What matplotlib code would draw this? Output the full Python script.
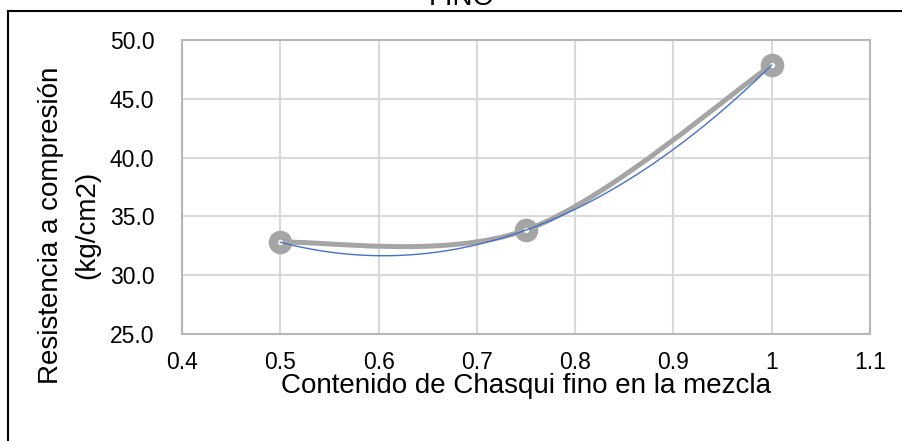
import numpy as np
import matplotlib.pyplot as plt
from matplotlib.path import Path
from matplotlib.patches import PathPatch
from matplotlib.lines import Line2D

plt.rcParams['font.family'] = ['Liberation Sans', 'DejaVu Sans']

contenido = [0.5, 0.75, 1.0]
resistencia = [32.8, 33.84, 47.87]
x_ticks = [0.4, 0.5, 0.6, 0.7, 0.8, 0.9, 1.0, 1.1]
x_labels = ['0.4', '0.5', '0.6', '0.7', '0.8', '0.9', '1', '1.1']
y_ticks = [25, 30, 35, 40, 45, 50]

gray = '#A5A5A5'
blue = '#4472C4'

fig = plt.figure(figsize=(9.03, 4.41), dpi=100)
ax = fig.add_axes([182 / 903, 1 - 334 / 441, (870 - 182) / 903, (334 - 40) / 441])

# Excel style smoothed line (Catmull-Rom as cubic Bezier)
pts = np.column_stack([contenido, resistencia])
verts = [pts[0]]
codes = [Path.MOVETO]
n = len(pts)
for i in range(n - 1):
    p_prev = pts[max(i - 1, 0)]
    p0 = pts[i]
    p1 = pts[i + 1]
    p_next = pts[min(i + 2, n - 1)]
    c1 = p0 + (p1 - p_prev) / 6
    c2 = p1 - (p_next - p0) / 6
    verts += [c1, c2, p1]
    codes += [Path.CURVE4] * 3
ax.add_patch(PathPatch(Path(verts, codes), facecolor='none', edgecolor=gray,
                       lw=3.6, capstyle='round', zorder=3))

ax.plot(contenido, resistencia, 'o', ms=10.5, mfc='white', mec=gray, mew=6.5,
        zorder=4)

# polynomial trend line (order 2)
coef = np.polyfit(contenido, resistencia, 2)
xt = np.linspace(min(contenido), max(contenido), 200)
ax.plot(xt, np.polyval(coef, xt), color=blue, lw=1.0, zorder=5)

ax.set_xlim(0.4, 1.1)
ax.set_ylim(25, 50)
ax.set_xticks(x_ticks)
ax.set_xticklabels(x_labels)
ax.set_yticks(y_ticks)
ax.set_yticklabels([f'{v:.1f}' for v in y_ticks])
ax.tick_params(length=0, labelsize=16.5, pad=12, colors='black')
ax.tick_params(axis='y', pad=20)
ax.grid(True, color='#D9D9D9', lw=1.5)
ax.set_axisbelow(True)
for s in ax.spines.values():
    s.set_color('#B7B7B7')
    s.set_linewidth(1.5)

fig.text(526 / 903, 1 - 386 / 441, 'Contenido de Chasqui fino en la mezcla',
         ha='center', va='center', fontsize=20)
fig.text(69 / 903, 1 - 225 / 441, 'Resistencia a compresión\n(kg/cm2)',
         ha='center', va='center', rotation=90, fontsize=20, linespacing=1.5,
         multialignment='center')
fig.text(462 / 903, 1 - 5 / 441, 'FINO', ha='center', va='baseline', fontsize=20)

# outer frame (cut at right and bottom)
fig.add_artist(Line2D([8 / 903, 8 / 903], [0, 1 - 11 / 441], color='black', lw=1.5))
fig.add_artist(Line2D([8 / 903, 1], [1 - 11 / 441, 1 - 11 / 441], color='black', lw=1.5))

fig.savefig('out.png', dpi=100)
